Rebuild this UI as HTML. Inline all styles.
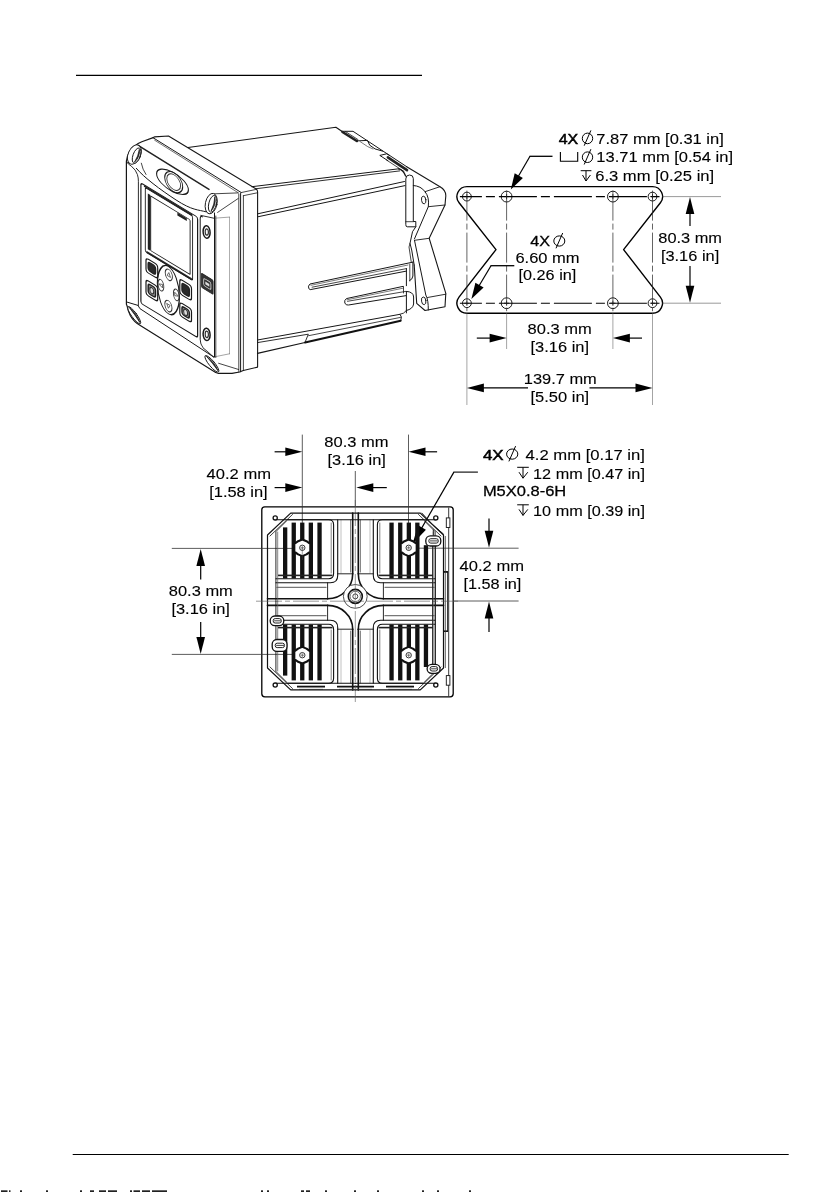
<!DOCTYPE html>
<html><head><meta charset="utf-8"><title>Mounting dimensions</title>
<style>
html,body{margin:0;padding:0;background:#fff;}
body{width:840px;height:1192px;overflow:hidden;position:relative;font-family:"Liberation Sans",sans-serif;}
svg{position:absolute;left:0;top:0;display:block;will-change:transform;}
svg text{font-family:"Liberation Sans",sans-serif;fill:#000;}
</style></head><body>
<svg width="840" height="1192" viewBox="0 0 840 1192">
<!-- page rules -->
<line x1="76.0" y1="75.4" x2="422.0" y2="75.4" stroke="#000" stroke-width="1.3" />
<line x1="72.7" y1="1154.5" x2="788.7" y2="1154.5" stroke="#000" stroke-width="1.1" />
<g fill="#222">
<rect x="1" y="1190.3" width="6.5" height="1.7"/>
<rect x="9" y="1190.3" width="1.5" height="1.7"/>
<rect x="20" y="1190.3" width="2" height="1.7"/>
<rect x="46" y="1190.3" width="2" height="1.7"/>
<rect x="80" y="1190.3" width="2" height="1.7"/>
<rect x="90" y="1190.3" width="4" height="1.7"/>
<rect x="99" y="1190.3" width="7" height="1.7"/>
<rect x="108" y="1190.3" width="9" height="1.7"/>
<rect x="130" y="1190.3" width="2" height="1.7"/>
<rect x="133.5" y="1190.3" width="6.5" height="1.7"/>
<rect x="142" y="1190.3" width="8" height="1.7"/>
<rect x="152" y="1190.3" width="15" height="1.7"/>
<rect x="261" y="1190.3" width="2" height="1.7"/>
<rect x="267" y="1190.3" width="2" height="1.7"/>
<rect x="301" y="1190.3" width="3" height="1.7"/>
<rect x="306" y="1190.3" width="4" height="1.7"/>
<rect x="325" y="1190.3" width="2" height="1.7"/>
<rect x="354" y="1190.3" width="2" height="1.7"/>
<rect x="377" y="1190.3" width="2" height="1.7"/>
<rect x="422" y="1190.3" width="2" height="1.7"/>
<rect x="437" y="1190.3" width="2" height="1.7"/>
<rect x="469" y="1190.3" width="2" height="1.7"/>
</g>
<!-- bracket flat pattern -->
<path d="M466.9,186.6 L652.5,186.6 A10.0,10.0 0 0 1 660.4,202.8 L623.6,249.6 L660.4,297.1 A10.0,10.0 0 0 1 652.5,313.2 L466.9,313.2 A10.0,10.0 0 0 1 459.0,297.1 L496.0,249.6 L459.1,202.8 A10.0,10.0 0 0 1 466.9,186.6 Z" fill="none" stroke="#000" stroke-width="1.4" stroke-linejoin="round"/>
<circle cx="466.9" cy="196.6" r="4.4" fill="none" stroke="#000" stroke-width="0.9"/>
<line x1="464.3" y1="196.6" x2="469.5" y2="196.6" stroke="#000" stroke-width="0.7" />
<line x1="466.9" y1="194.0" x2="466.9" y2="199.2" stroke="#000" stroke-width="0.7" />
<circle cx="466.9" cy="303.2" r="4.4" fill="none" stroke="#000" stroke-width="0.9"/>
<line x1="464.3" y1="303.2" x2="469.5" y2="303.2" stroke="#000" stroke-width="0.7" />
<line x1="466.9" y1="300.6" x2="466.9" y2="305.8" stroke="#000" stroke-width="0.7" />
<circle cx="506.6" cy="196.6" r="5.4" fill="none" stroke="#000" stroke-width="0.9"/>
<line x1="504.0" y1="196.6" x2="509.2" y2="196.6" stroke="#000" stroke-width="0.7" />
<line x1="506.6" y1="194.0" x2="506.6" y2="199.2" stroke="#000" stroke-width="0.7" />
<circle cx="506.6" cy="303.2" r="5.4" fill="none" stroke="#000" stroke-width="0.9"/>
<line x1="504.0" y1="303.2" x2="509.2" y2="303.2" stroke="#000" stroke-width="0.7" />
<line x1="506.6" y1="300.6" x2="506.6" y2="305.8" stroke="#000" stroke-width="0.7" />
<circle cx="612.9" cy="196.6" r="5.4" fill="none" stroke="#000" stroke-width="0.9"/>
<line x1="610.3" y1="196.6" x2="615.5" y2="196.6" stroke="#000" stroke-width="0.7" />
<line x1="612.9" y1="194.0" x2="612.9" y2="199.2" stroke="#000" stroke-width="0.7" />
<circle cx="612.9" cy="303.2" r="5.4" fill="none" stroke="#000" stroke-width="0.9"/>
<line x1="610.3" y1="303.2" x2="615.5" y2="303.2" stroke="#000" stroke-width="0.7" />
<line x1="612.9" y1="300.6" x2="612.9" y2="305.8" stroke="#000" stroke-width="0.7" />
<circle cx="652.5" cy="196.6" r="4.4" fill="none" stroke="#000" stroke-width="0.9"/>
<line x1="649.9" y1="196.6" x2="655.1" y2="196.6" stroke="#000" stroke-width="0.7" />
<line x1="652.5" y1="194.0" x2="652.5" y2="199.2" stroke="#000" stroke-width="0.7" />
<circle cx="652.5" cy="303.2" r="4.4" fill="none" stroke="#000" stroke-width="0.9"/>
<line x1="649.9" y1="303.2" x2="655.1" y2="303.2" stroke="#000" stroke-width="0.7" />
<line x1="652.5" y1="300.6" x2="652.5" y2="305.8" stroke="#000" stroke-width="0.7" />
<line x1="459.9" y1="196.6" x2="659.5" y2="196.6" stroke="#000" stroke-width="1.1" stroke-dasharray="38 4 9 4" stroke-dashoffset="16"/>
<line x1="459.9" y1="303.2" x2="659.5" y2="303.2" stroke="#000" stroke-width="1.1" stroke-dasharray="38 4 9 4" stroke-dashoffset="16"/>
<line x1="466.9" y1="190.6" x2="466.9" y2="311.2" stroke="#222" stroke-width="0.7" stroke-dasharray="30 3 6 3"/>
<line x1="466.9" y1="313.2" x2="466.9" y2="405.0" stroke="#666" stroke-width="0.6" />
<line x1="506.6" y1="190.6" x2="506.6" y2="311.2" stroke="#222" stroke-width="0.7" stroke-dasharray="30 3 6 3"/>
<line x1="506.6" y1="313.2" x2="506.6" y2="349.0" stroke="#666" stroke-width="0.6" />
<line x1="612.9" y1="190.6" x2="612.9" y2="311.2" stroke="#222" stroke-width="0.7" stroke-dasharray="30 3 6 3"/>
<line x1="612.9" y1="313.2" x2="612.9" y2="349.0" stroke="#666" stroke-width="0.6" />
<line x1="652.5" y1="190.6" x2="652.5" y2="311.2" stroke="#222" stroke-width="0.7" stroke-dasharray="30 3 6 3"/>
<line x1="652.5" y1="313.2" x2="652.5" y2="405.0" stroke="#666" stroke-width="0.6" />
<line x1="662.5" y1="196.6" x2="721.0" y2="196.6" stroke="#555" stroke-width="0.6" />
<line x1="662.5" y1="303.2" x2="721.0" y2="303.2" stroke="#555" stroke-width="0.6" />
<line x1="690.0" y1="226.0" x2="690.0" y2="212.1" stroke="#000" stroke-width="1.2" />
<polygon points="690.0,197.1 694.3,214.1 685.7,214.1" fill="#000"/>
<line x1="690.0" y1="266.0" x2="690.0" y2="287.7" stroke="#000" stroke-width="1.2" />
<polygon points="690.0,302.7 685.7,285.7 694.3,285.7" fill="#000"/>
<text x="658.3" y="242.7" font-size="15.3" textLength="63.7" lengthAdjust="spacingAndGlyphs" stroke="#000" stroke-width="0.12">80.3 mm</text>
<text x="660.9" y="260.8" font-size="15.3" textLength="58.3" lengthAdjust="spacingAndGlyphs" stroke="#000" stroke-width="0.12">[3.16 in]</text>
<line x1="476.8" y1="338.1" x2="491.6" y2="338.1" stroke="#000" stroke-width="1.2" />
<polygon points="506.6,338.1 489.6,342.4 489.6,333.8" fill="#000"/>
<line x1="642.0" y1="338.1" x2="627.9" y2="338.1" stroke="#000" stroke-width="1.2" />
<polygon points="612.9,338.1 629.9,333.8 629.9,342.4" fill="#000"/>
<text x="527.6" y="334.0" font-size="15.3" textLength="64.2" lengthAdjust="spacingAndGlyphs" stroke="#000" stroke-width="0.12">80.3 mm</text>
<text x="530.5" y="352.1" font-size="15.3" textLength="58.5" lengthAdjust="spacingAndGlyphs" stroke="#000" stroke-width="0.12">[3.16 in]</text>
<line x1="528.0" y1="387.9" x2="481.9" y2="387.9" stroke="#000" stroke-width="1.2" />
<polygon points="466.9,387.9 483.9,383.6 483.9,392.2" fill="#000"/>
<line x1="589.5" y1="387.9" x2="637.5" y2="387.9" stroke="#000" stroke-width="1.2" />
<polygon points="652.5,387.9 635.5,392.2 635.5,383.6" fill="#000"/>
<text x="523.8" y="383.5" font-size="15.3" textLength="73.0" lengthAdjust="spacingAndGlyphs" stroke="#000" stroke-width="0.12">139.7 mm</text>
<text x="530.5" y="401.5" font-size="15.3" textLength="58.7" lengthAdjust="spacingAndGlyphs" stroke="#000" stroke-width="0.12">[5.50 in]</text>
<text x="530.3" y="246.2" font-size="15.2" textLength="19.8" lengthAdjust="spacingAndGlyphs" stroke="#000" stroke-width="0.28">4X</text>
<ellipse cx="559.3" cy="241.0" rx="5.5" ry="5.1" fill="none" stroke="#000" stroke-width="1.0"/>
<line x1="556.0" y1="248.3" x2="562.7" y2="233.0" stroke="#000" stroke-width="1.0" />
<text x="515.4" y="262.6" font-size="15.3" textLength="64.2" lengthAdjust="spacingAndGlyphs" stroke="#000" stroke-width="0.12">6.60 mm</text>
<text x="518.5" y="280.3" font-size="15.3" textLength="57.8" lengthAdjust="spacingAndGlyphs" stroke="#000" stroke-width="0.12">[0.26 in]</text>
<line x1="514.3" y1="265.7" x2="490.5" y2="265.7" stroke="#000" stroke-width="1.3" />
<line x1="491.0" y1="265.7" x2="478.5" y2="286.8" stroke="#000" stroke-width="1.2" />
<polygon points="471.4,298.9 475.4,282.7 483.6,287.5" fill="#000"/>
<text x="558.7" y="144.0" font-size="15.0" textLength="19.5" lengthAdjust="spacingAndGlyphs" stroke="#000" stroke-width="0.5">4X</text>
<ellipse cx="587.5" cy="138.4" rx="5.2" ry="5.3" fill="none" stroke="#000" stroke-width="1.0"/>
<line x1="584.2" y1="145.7" x2="590.9" y2="130.4" stroke="#000" stroke-width="1.0" />
<text x="596.3" y="143.6" font-size="15.3" textLength="127.5" lengthAdjust="spacingAndGlyphs" stroke="#000" stroke-width="0.12">7.87 mm [0.31 in]</text>
<polyline points="560.4,152.1 560.4,161.2 577.7,161.2 577.7,152.1" fill="none" stroke="#000" stroke-width="1.1"/>
<ellipse cx="587.5" cy="157.2" rx="5.2" ry="5.3" fill="none" stroke="#000" stroke-width="1.0"/>
<line x1="584.2" y1="164.5" x2="590.9" y2="149.2" stroke="#000" stroke-width="1.0" />
<text x="596.3" y="162.3" font-size="15.3" textLength="136.7" lengthAdjust="spacingAndGlyphs" stroke="#000" stroke-width="0.12">13.71 mm [0.54 in]</text>
<line x1="580.7" y1="170.7" x2="591.4" y2="170.7" stroke="#000" stroke-width="1.0" />
<line x1="586.0" y1="170.7" x2="586.0" y2="181.0" stroke="#000" stroke-width="1.0" />
<polyline points="582.5,175.0 586.0,181.0 590.4,175.0" fill="none" stroke="#000" stroke-width="1.0"/>
<text x="595.2" y="180.7" font-size="15.3" textLength="119.0" lengthAdjust="spacingAndGlyphs" stroke="#000" stroke-width="0.12">6.3 mm [0.25 in]</text>
<line x1="552.5" y1="156.3" x2="529.5" y2="156.3" stroke="#000" stroke-width="1.3" />
<line x1="530.0" y1="156.3" x2="517.8" y2="177.3" stroke="#000" stroke-width="1.2" />
<polygon points="510.8,189.4 514.7,173.2 522.9,177.9" fill="#000"/>
<!-- bottom figure: rear view -->
<rect x="261.8" y="506.9" width="191.4" height="189.9" rx="3" fill="#fff" stroke="#000" stroke-width="1.3"/>
<line x1="302.3" y1="434.6" x2="302.3" y2="547.8" stroke="#333" stroke-width="0.8" />
<line x1="408.5" y1="434.6" x2="408.5" y2="547.8" stroke="#333" stroke-width="0.8" />
<line x1="355.3" y1="471.0" x2="355.3" y2="506.9" stroke="#333" stroke-width="0.8" />
<line x1="171.8" y1="548.4" x2="294.3" y2="548.4" stroke="#333" stroke-width="0.8" />
<line x1="171.8" y1="654.4" x2="294.3" y2="654.4" stroke="#333" stroke-width="0.8" />
<line x1="416.5" y1="548.2" x2="518.6" y2="548.2" stroke="#333" stroke-width="0.8" />
<line x1="453.2" y1="601.0" x2="518.6" y2="601.0" stroke="#333" stroke-width="0.8" />
<line x1="274.6" y1="451.8" x2="287.3" y2="451.8" stroke="#000" stroke-width="1.2" />
<polygon points="302.3,451.8 285.3,456.1 285.3,447.5" fill="#000"/>
<line x1="437.1" y1="451.8" x2="423.5" y2="451.8" stroke="#000" stroke-width="1.2" />
<polygon points="408.5,451.8 425.5,447.5 425.5,456.1" fill="#000"/>
<line x1="274.6" y1="487.6" x2="287.3" y2="487.6" stroke="#000" stroke-width="1.2" />
<polygon points="302.3,487.6 285.3,491.9 285.3,483.3" fill="#000"/>
<line x1="386.8" y1="487.6" x2="371.3" y2="487.6" stroke="#000" stroke-width="1.2" />
<polygon points="356.3,487.6 373.3,483.3 373.3,491.9" fill="#000"/>
<line x1="200.7" y1="579.5" x2="200.7" y2="564.0" stroke="#000" stroke-width="1.2" />
<polygon points="200.7,549.0 205.0,566.0 196.4,566.0" fill="#000"/>
<line x1="200.7" y1="622.0" x2="200.7" y2="639.0" stroke="#000" stroke-width="1.2" />
<polygon points="200.7,654.0 196.4,637.0 205.0,637.0" fill="#000"/>
<line x1="489.0" y1="518.5" x2="489.0" y2="532.8" stroke="#000" stroke-width="1.2" />
<polygon points="489.0,547.8 484.7,530.8 493.3,530.8" fill="#000"/>
<line x1="489.0" y1="632.0" x2="489.0" y2="616.5" stroke="#000" stroke-width="1.2" />
<polygon points="489.0,601.5 493.3,618.5 484.7,618.5" fill="#000"/>
<text x="324.3" y="447.1" font-size="15.3" textLength="64.2" lengthAdjust="spacingAndGlyphs" stroke="#000" stroke-width="0.12">80.3 mm</text>
<text x="327.5" y="465.4" font-size="15.3" textLength="58.3" lengthAdjust="spacingAndGlyphs" stroke="#000" stroke-width="0.12">[3.16 in]</text>
<text x="206.6" y="479.4" font-size="15.3" textLength="64.4" lengthAdjust="spacingAndGlyphs" stroke="#000" stroke-width="0.12">40.2 mm</text>
<text x="209.2" y="497.2" font-size="15.3" textLength="58.5" lengthAdjust="spacingAndGlyphs" stroke="#000" stroke-width="0.12">[1.58 in]</text>
<text x="168.8" y="595.7" font-size="15.3" textLength="64.0" lengthAdjust="spacingAndGlyphs" stroke="#000" stroke-width="0.12">80.3 mm</text>
<text x="171.4" y="613.8" font-size="15.3" textLength="58.5" lengthAdjust="spacingAndGlyphs" stroke="#000" stroke-width="0.12">[3.16 in]</text>
<text x="459.6" y="570.9" font-size="15.3" textLength="64.4" lengthAdjust="spacingAndGlyphs" stroke="#000" stroke-width="0.12">40.2 mm</text>
<text x="463.4" y="589.0" font-size="15.3" textLength="58.0" lengthAdjust="spacingAndGlyphs" stroke="#000" stroke-width="0.12">[1.58 in]</text>
<text x="482.9" y="459.9" font-size="15.0" textLength="20.7" lengthAdjust="spacingAndGlyphs" stroke="#000" stroke-width="0.5">4X</text>
<ellipse cx="512.2" cy="454.1" rx="5.6" ry="5.1" fill="none" stroke="#000" stroke-width="1.0"/>
<line x1="508.9" y1="461.4" x2="515.6" y2="446.1" stroke="#000" stroke-width="1.0" />
<text x="525.5" y="459.8" font-size="15.3" textLength="119.4" lengthAdjust="spacingAndGlyphs" stroke="#000" stroke-width="0.12">4.2 mm [0.17 in]</text>
<line x1="517.2" y1="467.3" x2="528.8" y2="467.3" stroke="#000" stroke-width="1.0" />
<line x1="523.0" y1="467.3" x2="523.0" y2="478.2" stroke="#000" stroke-width="1.0" />
<polyline points="519.0,472.2 523.0,478.2 527.8,472.2" fill="none" stroke="#000" stroke-width="1.0"/>
<text x="533.1" y="478.5" font-size="15.3" textLength="111.8" lengthAdjust="spacingAndGlyphs" stroke="#000" stroke-width="0.12">12 mm [0.47 in]</text>
<text x="482.9" y="496.3" font-size="15.2" textLength="83.4" lengthAdjust="spacingAndGlyphs" stroke="#000" stroke-width="0.28">M5X0.8-6H</text>
<line x1="517.2" y1="504.8" x2="528.8" y2="504.8" stroke="#000" stroke-width="1.0" />
<line x1="523.0" y1="504.8" x2="523.0" y2="515.4" stroke="#000" stroke-width="1.0" />
<polyline points="519.0,509.4 523.0,515.4 527.8,509.4" fill="none" stroke="#000" stroke-width="1.0"/>
<text x="533.1" y="515.5" font-size="15.3" textLength="111.8" lengthAdjust="spacingAndGlyphs" stroke="#000" stroke-width="0.12">10 mm [0.39 in]</text>
<line x1="477.9" y1="472.1" x2="453.4" y2="472.1" stroke="#000" stroke-width="1.1" />
<line x1="453.9" y1="472.1" x2="421.0" y2="529.2" stroke="#000" stroke-width="1.2" />
<polygon points="412.5,543.9 418.1,525.2 425.9,529.7" fill="#000"/>
<path d="M275.9,519.7 H328.6 Q333.6,519.7 333.6,524.7 V573.6 Q333.6,578.8 328.6,578.8 H275.9" fill="none" stroke="#111" stroke-width="1.1" stroke-linejoin="round" stroke-linecap="round" />
<path d="M337.7,519.7 V575.5 Q337.7,582.8 330.4,582.8 H275.9" fill="none" stroke="#111" stroke-width="1.1" stroke-linejoin="round" stroke-linecap="round" />
<path d="M331.2,523.0 V573.0" fill="none" stroke="#666" stroke-width="0.8" stroke-linejoin="round" stroke-linecap="round" />
<path d="M277.0,587.3 H326.0" fill="none" stroke="#777" stroke-width="1.3" stroke-linejoin="round" stroke-linecap="round" />
<path d="M350.6,520.0 V572.0" fill="none" stroke="#888" stroke-width="1.2" stroke-linejoin="round" stroke-linecap="round" />
<path d="M341.0,520.0 V573.0" fill="none" stroke="#999" stroke-width="0.6" stroke-linejoin="round" stroke-linecap="round" />
<rect x="283.0" y="527.4" width="4.3" height="51.0" fill="#111"/>
<rect x="291.6" y="522.6" width="4.3" height="55.8" fill="#111"/>
<rect x="300.1" y="522.6" width="4.3" height="55.8" fill="#111"/>
<rect x="308.7" y="522.6" width="4.3" height="55.8" fill="#111"/>
<rect x="317.4" y="522.6" width="4.3" height="55.8" fill="#111"/>
<rect x="278.0" y="574.6" width="54.5" height="1.6" fill="#222"/>
<polygon points="302.3,539.5 306.5,541.2 310.3,544.0 310.3,551.6 306.5,554.4 302.3,556.1 298.1,554.4 294.3,551.6 294.3,544.0 298.1,541.2" fill="#fff" stroke="#111" stroke-width="2.1" stroke-linejoin="round"/>
<circle cx="302.3" cy="547.8" r="2.7" fill="#fff" stroke="#222" stroke-width="0.9"/>
<line x1="300.5" y1="547.8" x2="304.1" y2="547.8" stroke="#333" stroke-width="0.6" />
<line x1="302.3" y1="546.0" x2="302.3" y2="549.6" stroke="#333" stroke-width="0.6" />
<path d="M352.7,573.8 A25,25.0 0 0 1 327.6,598.8" fill="none" stroke="#111" stroke-width="1.6" stroke-linejoin="round" stroke-linecap="round" />
<path d="M352.7,513.1 V573.8" fill="none" stroke="#111" stroke-width="1.6" stroke-linejoin="round" stroke-linecap="round" />
<path d="M267.5,598.8 H327.6" fill="none" stroke="#111" stroke-width="1.6" stroke-linejoin="round" stroke-linecap="round" />
<path d="M327.6,582.8 V598.8" fill="none" stroke="#111" stroke-width="0.9" stroke-linejoin="round" stroke-linecap="round" />
<path d="M337.7,573.8 H352.7" fill="none" stroke="#111" stroke-width="0.9" stroke-linejoin="round" stroke-linecap="round" />
<path d="M355.5,513.1 H290.7 L267.5,535.0 V601.5" fill="none" stroke="#111" stroke-width="1.2" stroke-linejoin="round" stroke-linecap="round" />
<path d="M292.5,514.5 L270.0,536.0" fill="none" stroke="#111" stroke-width="0.8" stroke-linejoin="round" stroke-linecap="round" />
<path d="M286.5,521.0 L276.0,531.5" fill="none" stroke="#111" stroke-width="0.8" stroke-linejoin="round" stroke-linecap="round" />
<path d="M355.5,519.7 H287.5" fill="none" stroke="#111" stroke-width="1.1" stroke-linejoin="round" stroke-linecap="round" />
<path d="M275.9,532.0 V601.5" fill="none" stroke="#111" stroke-width="0.9" stroke-linejoin="round" stroke-linecap="round" />
<path d="M277.7,532.0 V601.5" fill="none" stroke="#555" stroke-width="0.7" stroke-linejoin="round" stroke-linecap="round" />
<circle cx="275.2" cy="517.9" r="2.1" fill="#fff" stroke="#111" stroke-width="1.3"/>
<path d="M275.9,683.3 H328.6 Q333.6,683.3 333.6,678.3 V629.4 Q333.6,624.2 328.6,624.2 H275.9" fill="none" stroke="#111" stroke-width="1.1" stroke-linejoin="round" stroke-linecap="round" />
<path d="M337.7,683.3 V627.5 Q337.7,620.2 330.4,620.2 H275.9" fill="none" stroke="#111" stroke-width="1.1" stroke-linejoin="round" stroke-linecap="round" />
<path d="M331.2,680.0 V630.0" fill="none" stroke="#666" stroke-width="0.8" stroke-linejoin="round" stroke-linecap="round" />
<path d="M277.0,615.7 H326.0" fill="none" stroke="#777" stroke-width="1.3" stroke-linejoin="round" stroke-linecap="round" />
<path d="M350.6,683.0 V631.0" fill="none" stroke="#888" stroke-width="1.2" stroke-linejoin="round" stroke-linecap="round" />
<path d="M341.0,683.0 V630.0" fill="none" stroke="#999" stroke-width="0.6" stroke-linejoin="round" stroke-linecap="round" />
<rect x="283.0" y="624.6" width="4.3" height="51.0" fill="#111"/>
<rect x="291.6" y="624.6" width="4.3" height="55.8" fill="#111"/>
<rect x="300.1" y="624.6" width="4.3" height="55.8" fill="#111"/>
<rect x="308.7" y="624.6" width="4.3" height="55.8" fill="#111"/>
<rect x="317.4" y="624.6" width="4.3" height="55.8" fill="#111"/>
<rect x="278.0" y="626.8" width="54.5" height="1.6" fill="#222"/>
<polygon points="302.3,646.9 306.5,648.6 310.3,651.4 310.3,659.0 306.5,661.8 302.3,663.5 298.1,661.8 294.3,659.0 294.3,651.4 298.1,648.6" fill="#fff" stroke="#111" stroke-width="2.1" stroke-linejoin="round"/>
<circle cx="302.3" cy="655.2" r="2.7" fill="#fff" stroke="#222" stroke-width="0.9"/>
<line x1="300.5" y1="655.2" x2="304.1" y2="655.2" stroke="#333" stroke-width="0.6" />
<line x1="302.3" y1="653.4" x2="302.3" y2="657.0" stroke="#333" stroke-width="0.6" />
<path d="M352.7,629.2 A25,23.8 0 0 0 327.6,605.4" fill="none" stroke="#111" stroke-width="1.6" stroke-linejoin="round" stroke-linecap="round" />
<path d="M352.7,689.9 V629.2" fill="none" stroke="#111" stroke-width="1.6" stroke-linejoin="round" stroke-linecap="round" />
<path d="M267.5,605.4 H327.6" fill="none" stroke="#111" stroke-width="1.6" stroke-linejoin="round" stroke-linecap="round" />
<path d="M327.6,620.2 V605.4" fill="none" stroke="#111" stroke-width="0.9" stroke-linejoin="round" stroke-linecap="round" />
<path d="M337.7,629.2 H352.7" fill="none" stroke="#111" stroke-width="0.9" stroke-linejoin="round" stroke-linecap="round" />
<path d="M355.5,689.9 H290.7 L267.5,668.0 V601.5" fill="none" stroke="#111" stroke-width="1.2" stroke-linejoin="round" stroke-linecap="round" />
<path d="M292.5,688.5 L270.0,667.0" fill="none" stroke="#111" stroke-width="0.8" stroke-linejoin="round" stroke-linecap="round" />
<path d="M286.5,682.0 L276.0,671.5" fill="none" stroke="#111" stroke-width="0.8" stroke-linejoin="round" stroke-linecap="round" />
<path d="M355.5,683.3 H287.5" fill="none" stroke="#111" stroke-width="1.1" stroke-linejoin="round" stroke-linecap="round" />
<path d="M275.9,671.0 V601.5" fill="none" stroke="#111" stroke-width="0.9" stroke-linejoin="round" stroke-linecap="round" />
<path d="M277.7,671.0 V601.5" fill="none" stroke="#555" stroke-width="0.7" stroke-linejoin="round" stroke-linecap="round" />
<circle cx="275.2" cy="685.1" r="2.1" fill="#fff" stroke="#111" stroke-width="1.3"/>
<path d="M435.1,519.7 H382.4 Q377.4,519.7 377.4,524.7 V573.6 Q377.4,578.8 382.4,578.8 H435.1" fill="none" stroke="#111" stroke-width="1.1" stroke-linejoin="round" stroke-linecap="round" />
<path d="M373.3,519.7 V575.5 Q373.3,582.8 380.6,582.8 H435.1" fill="none" stroke="#111" stroke-width="1.1" stroke-linejoin="round" stroke-linecap="round" />
<path d="M379.8,523.0 V573.0" fill="none" stroke="#666" stroke-width="0.8" stroke-linejoin="round" stroke-linecap="round" />
<path d="M434.0,587.3 H385.0" fill="none" stroke="#777" stroke-width="1.3" stroke-linejoin="round" stroke-linecap="round" />
<path d="M360.4,520.0 V572.0" fill="none" stroke="#888" stroke-width="1.2" stroke-linejoin="round" stroke-linecap="round" />
<path d="M370.0,520.0 V573.0" fill="none" stroke="#999" stroke-width="0.6" stroke-linejoin="round" stroke-linecap="round" />
<rect x="423.8" y="545.2" width="4.3" height="33.2" fill="#111"/>
<rect x="415.2" y="522.6" width="4.3" height="55.8" fill="#111"/>
<rect x="406.7" y="522.6" width="4.3" height="55.8" fill="#111"/>
<rect x="398.1" y="522.6" width="4.3" height="55.8" fill="#111"/>
<rect x="389.4" y="522.6" width="4.3" height="55.8" fill="#111"/>
<rect x="378.5" y="574.6" width="54.5" height="1.6" fill="#222"/>
<polygon points="408.7,539.5 412.9,541.2 416.7,544.0 416.7,551.6 412.9,554.4 408.7,556.1 404.5,554.4 400.7,551.6 400.7,544.0 404.5,541.2" fill="#fff" stroke="#111" stroke-width="2.1" stroke-linejoin="round"/>
<circle cx="408.7" cy="547.8" r="2.7" fill="#fff" stroke="#222" stroke-width="0.9"/>
<line x1="406.9" y1="547.8" x2="410.5" y2="547.8" stroke="#333" stroke-width="0.6" />
<line x1="408.7" y1="546.0" x2="408.7" y2="549.6" stroke="#333" stroke-width="0.6" />
<path d="M358.3,573.8 A25,25.0 0 0 0 383.4,598.8" fill="none" stroke="#111" stroke-width="1.6" stroke-linejoin="round" stroke-linecap="round" />
<path d="M358.3,513.1 V573.8" fill="none" stroke="#111" stroke-width="1.6" stroke-linejoin="round" stroke-linecap="round" />
<path d="M443.5,598.8 H383.4" fill="none" stroke="#111" stroke-width="1.6" stroke-linejoin="round" stroke-linecap="round" />
<path d="M383.4,582.8 V598.8" fill="none" stroke="#111" stroke-width="0.9" stroke-linejoin="round" stroke-linecap="round" />
<path d="M373.3,573.8 H358.3" fill="none" stroke="#111" stroke-width="0.9" stroke-linejoin="round" stroke-linecap="round" />
<path d="M355.5,513.1 H420.3 L443.5,535.0 V601.5" fill="none" stroke="#111" stroke-width="1.2" stroke-linejoin="round" stroke-linecap="round" />
<path d="M418.5,514.5 L441.0,536.0" fill="none" stroke="#111" stroke-width="0.8" stroke-linejoin="round" stroke-linecap="round" />
<path d="M424.5,521.0 L435.0,531.5" fill="none" stroke="#111" stroke-width="0.8" stroke-linejoin="round" stroke-linecap="round" />
<path d="M355.5,519.7 H423.5" fill="none" stroke="#111" stroke-width="1.1" stroke-linejoin="round" stroke-linecap="round" />
<path d="M435.1,532.0 V601.5" fill="none" stroke="#111" stroke-width="0.9" stroke-linejoin="round" stroke-linecap="round" />
<path d="M433.3,532.0 V601.5" fill="none" stroke="#555" stroke-width="0.7" stroke-linejoin="round" stroke-linecap="round" />
<circle cx="435.8" cy="517.9" r="2.1" fill="#fff" stroke="#111" stroke-width="1.3"/>
<path d="M435.1,683.3 H382.4 Q377.4,683.3 377.4,678.3 V629.4 Q377.4,624.2 382.4,624.2 H435.1" fill="none" stroke="#111" stroke-width="1.1" stroke-linejoin="round" stroke-linecap="round" />
<path d="M373.3,683.3 V627.5 Q373.3,620.2 380.6,620.2 H435.1" fill="none" stroke="#111" stroke-width="1.1" stroke-linejoin="round" stroke-linecap="round" />
<path d="M379.8,680.0 V630.0" fill="none" stroke="#666" stroke-width="0.8" stroke-linejoin="round" stroke-linecap="round" />
<path d="M434.0,615.7 H385.0" fill="none" stroke="#777" stroke-width="1.3" stroke-linejoin="round" stroke-linecap="round" />
<path d="M360.4,683.0 V631.0" fill="none" stroke="#888" stroke-width="1.2" stroke-linejoin="round" stroke-linecap="round" />
<path d="M370.0,683.0 V630.0" fill="none" stroke="#999" stroke-width="0.6" stroke-linejoin="round" stroke-linecap="round" />
<rect x="423.8" y="624.6" width="4.3" height="42.4" fill="#111"/>
<rect x="415.2" y="624.6" width="4.3" height="55.8" fill="#111"/>
<rect x="406.7" y="624.6" width="4.3" height="55.8" fill="#111"/>
<rect x="398.1" y="624.6" width="4.3" height="55.8" fill="#111"/>
<rect x="389.4" y="624.6" width="4.3" height="55.8" fill="#111"/>
<rect x="378.5" y="626.8" width="54.5" height="1.6" fill="#222"/>
<polygon points="408.7,646.9 412.9,648.6 416.7,651.4 416.7,659.0 412.9,661.8 408.7,663.5 404.5,661.8 400.7,659.0 400.7,651.4 404.5,648.6" fill="#fff" stroke="#111" stroke-width="2.1" stroke-linejoin="round"/>
<circle cx="408.7" cy="655.2" r="2.7" fill="#fff" stroke="#222" stroke-width="0.9"/>
<line x1="406.9" y1="655.2" x2="410.5" y2="655.2" stroke="#333" stroke-width="0.6" />
<line x1="408.7" y1="653.4" x2="408.7" y2="657.0" stroke="#333" stroke-width="0.6" />
<path d="M358.3,629.2 A25,23.8 0 0 1 383.4,605.4" fill="none" stroke="#111" stroke-width="1.6" stroke-linejoin="round" stroke-linecap="round" />
<path d="M358.3,689.9 V629.2" fill="none" stroke="#111" stroke-width="1.6" stroke-linejoin="round" stroke-linecap="round" />
<path d="M443.5,605.4 H383.4" fill="none" stroke="#111" stroke-width="1.6" stroke-linejoin="round" stroke-linecap="round" />
<path d="M383.4,620.2 V605.4" fill="none" stroke="#111" stroke-width="0.9" stroke-linejoin="round" stroke-linecap="round" />
<path d="M373.3,629.2 H358.3" fill="none" stroke="#111" stroke-width="0.9" stroke-linejoin="round" stroke-linecap="round" />
<path d="M355.5,689.9 H420.3 L443.5,668.0 V601.5" fill="none" stroke="#111" stroke-width="1.2" stroke-linejoin="round" stroke-linecap="round" />
<path d="M418.5,688.5 L441.0,667.0" fill="none" stroke="#111" stroke-width="0.8" stroke-linejoin="round" stroke-linecap="round" />
<path d="M424.5,682.0 L435.0,671.5" fill="none" stroke="#111" stroke-width="0.8" stroke-linejoin="round" stroke-linecap="round" />
<path d="M355.5,683.3 H423.5" fill="none" stroke="#111" stroke-width="1.1" stroke-linejoin="round" stroke-linecap="round" />
<path d="M435.1,671.0 V601.5" fill="none" stroke="#111" stroke-width="0.9" stroke-linejoin="round" stroke-linecap="round" />
<path d="M433.3,671.0 V601.5" fill="none" stroke="#555" stroke-width="0.7" stroke-linejoin="round" stroke-linecap="round" />
<circle cx="435.8" cy="685.1" r="2.1" fill="#fff" stroke="#111" stroke-width="1.3"/>
<line x1="297.0" y1="686.6" x2="325.0" y2="686.6" stroke="#111" stroke-width="1.8" />
<line x1="299.0" y1="689.4" x2="323.0" y2="689.4" stroke="#333" stroke-width="0.9" />
<line x1="337.0" y1="686.6" x2="374.0" y2="686.6" stroke="#111" stroke-width="1.8" />
<line x1="339.0" y1="689.4" x2="372.0" y2="689.4" stroke="#333" stroke-width="0.9" />
<line x1="386.0" y1="686.6" x2="414.0" y2="686.6" stroke="#111" stroke-width="1.8" />
<line x1="388.0" y1="689.4" x2="412.0" y2="689.4" stroke="#333" stroke-width="0.9" />
<line x1="448.7" y1="507.5" x2="448.7" y2="696.3" stroke="#222" stroke-width="0.9" />
<rect x="446.3" y="517.9" width="3.6" height="9.6" fill="#fff" stroke="#111" stroke-width="0.9"/>
<rect x="446.3" y="675.6" width="3.6" height="9.6" fill="#fff" stroke="#111" stroke-width="0.9"/>
<path d="M443.6,571.5 H447.6 V631.5 H443.6" fill="none" stroke="#111" stroke-width="0.9" stroke-linejoin="round" stroke-linecap="round" />
<line x1="444.0" y1="572.0" x2="448.0" y2="572.0" stroke="#111" stroke-width="1.6" />
<line x1="444.0" y1="631.2" x2="448.0" y2="631.2" stroke="#111" stroke-width="1.6" />
<line x1="445.3" y1="536.0" x2="445.3" y2="668.0" stroke="#333" stroke-width="0.8" />
<line x1="432.5" y1="546.0" x2="432.5" y2="664.0" stroke="#222" stroke-width="0.9" />
<line x1="435.5" y1="546.0" x2="435.5" y2="664.0" stroke="#222" stroke-width="0.9" />
<circle cx="355.3" cy="596.4" r="11.9" fill="#fff" stroke="#222" stroke-width="0.8"/>
<circle cx="355.3" cy="596.4" r="7.0" fill="#fff" stroke="#111" stroke-width="1.6"/>
<circle cx="355.3" cy="596.4" r="5.2" fill="none" stroke="#333" stroke-width="0.7"/>
<circle cx="355.3" cy="596.4" r="2.5" fill="none" stroke="#444" stroke-width="1.0"/>
<rect x="425.8" y="535.8" width="15" height="10.2" rx="4.6" fill="#fff" stroke="#111" stroke-width="1.3"/>
<rect x="428.8" y="538.7" width="9.5" height="4.4" rx="2" fill="#fff" stroke="#222" stroke-width="1.0"/>
<line x1="429.8" y1="540.9" x2="437.8" y2="540.9" stroke="#444" stroke-width="1.0" />
<line x1="433.3" y1="529.5" x2="433.3" y2="535.5" stroke="#222" stroke-width="1.0" />
<path d="M421.9,513.1 L432,524 L443.4,534" fill="none" stroke="#111" stroke-width="0.9" stroke-linejoin="round" stroke-linecap="round" />
<rect x="270.2" y="616.0" width="13.6" height="9.6" rx="4.6" fill="#fff" stroke="#111" stroke-width="1.3"/>
<rect x="273.2" y="618.6" width="8.1" height="4.4" rx="2" fill="#fff" stroke="#222" stroke-width="1.0"/>
<line x1="274.2" y1="620.8" x2="280.8" y2="620.8" stroke="#444" stroke-width="1.0" />
<rect x="272.2" y="639.5" width="14.8" height="11.8" rx="4.6" fill="#fff" stroke="#111" stroke-width="1.3"/>
<rect x="275.2" y="643.2" width="9.3" height="4.4" rx="2" fill="#fff" stroke="#222" stroke-width="1.0"/>
<line x1="276.2" y1="645.4" x2="284.0" y2="645.4" stroke="#444" stroke-width="1.0" />
<rect x="427.1" y="664.3" width="13" height="9" rx="4.6" fill="#fff" stroke="#111" stroke-width="1.3"/>
<rect x="430.1" y="666.6" width="7.5" height="4.4" rx="2" fill="#fff" stroke="#222" stroke-width="1.0"/>
<line x1="431.1" y1="668.8" x2="437.1" y2="668.8" stroke="#444" stroke-width="1.0" />
<line x1="355.3" y1="500.0" x2="355.3" y2="702.0" stroke="#555" stroke-width="0.6" stroke-dasharray="26 3 5 3"/>
<line x1="256.0" y1="601.2" x2="458.0" y2="601.2" stroke="#555" stroke-width="0.6" stroke-dasharray="26 3 5 3"/>
<line x1="302.3" y1="547.8" x2="302.3" y2="560.0" stroke="#444" stroke-width="0.5" />
<!-- device isometric view -->
<g fill="none" stroke="#161616" stroke-width="1.1" stroke-linejoin="round" stroke-linecap="round">
<path d="M188,147.5 L335.9,127.3 L341.8,131.3" stroke-width="1.1"/>
<path d="M251.9,186.7 L398.6,168.8" stroke-width="1.0"/>
<path d="M256.4,188.7 L399.7,170.9" stroke-width="0.9"/>
<path d="M257.8,213.8 L404.5,181.5" stroke-width="1.0"/>
<path d="M257.8,216.8 L405,185.6" stroke-width="1.0"/>
<path d="M257.5,340 L400,314.3 L401.4,317.1 L400.7,320.7" stroke-width="1.0"/>
<path d="M257.5,342.6 L308.3,334.2 L305,342.5" stroke-width="0.9"/>
<path d="M257.5,353.3 L305,342.5" stroke-width="1.2"/>
<path d="M305,342.5 L400.7,320.7" stroke-width="1.9" stroke="#111"/>
<path d="M308.6,335.7 L400.5,317.4" stroke-width="0.8"/>
<path d="M412.9,262.1 L310,284 Q307.6,286 308.8,288.6 Q310,290.3 312,289.3 L406.4,271.1" stroke-width="1.0"/>
<path d="M312.1,287.2 L406.4,268.6" stroke-width="0.8"/>
<path d="M311,285.3 L408,265" stroke-width="0.7" stroke="#444"/>
<path d="M406.4,268.6 V285.7" stroke-width="1.0"/>
<path d="M412.9,262.1 V276 Q412.5,279.5 409.8,280.5" stroke-width="1.0"/>
<path d="M409.8,264 V281" stroke-width="0.8"/>
<path d="M402.9,286.4 L346.4,298.6 Q344,300.3 344.8,303 Q346,305.6 348.5,305 L405.7,295.7" stroke-width="1.0"/>
<path d="M347.5,301.3 L405.7,291.4" stroke-width="0.8"/>
<path d="M347,299.8 L403,288.2" stroke-width="0.7" stroke="#444"/>
<path d="M406.4,291.4 V312.9" stroke-width="1.0"/>
<path d="M406.4,291.4 Q413.5,291.8 413.6,297 V304 Q413,309 406.4,310.5" stroke-width="1.0"/>
<path d="M406.4,310.5 Q404,314 400,314.3" stroke-width="0.9"/>
<path d="M403.5,286.5 V293" stroke-width="0.8"/>
<path d="M405.8,178.5 Q405.8,175 409.5,175 Q413.3,175 413.3,178.5 V221.5 H415.8 V226.8 H407.2 Q405.8,226.8 405.8,225 Z" stroke-width="1.0" fill="#fff"/>
<path d="M405.8,221.7 H413.3" stroke-width="0.8"/>
<path d="M398.6,168.8 Q403.5,170 405.6,176" stroke-width="1.3"/>
<path d="M415.8,226.8 L412.5,231.7 L410,243.3 L411.7,250 L414.2,265" stroke-width="1.0"/>
<path d="M410,243.3 L409,247 L411.3,262.3" stroke-width="0.8"/>
<path d="M341.8,131.3 H353 L406.7,166.7" stroke-width="1.0"/>
<path d="M342.5,132 L356.8,141" stroke-width="2.6" stroke="#222"/>
<path d="M345.5,131.6 L358,139.6" stroke-width="0.8"/>
<path d="M356.8,140.9 L367.5,140.4 L369.7,145.2 L375,148.9 L382.5,151.1" stroke-width="1.0"/>
<path d="M360,141.5 L367.5,146.5 L373,149" stroke-width="0.7" stroke="#444"/>
<path d="M389.5,155.4 L386.8,153.8 L379.8,155.4 L387.9,160.7" stroke-width="1.0"/>
<path d="M387.9,157.3 L407,170.2" stroke-width="2.6" stroke="#222"/>
<path d="M386.5,160 L404,171.5" stroke-width="0.8"/>
<path d="M406.7,166.7 L440,186.7 Q446,190 445.8,196 L445,205 L429.2,238.3 L445.8,293.3 L445,306.7 L425,310.5 L416.7,303.3 L414.2,265" stroke-width="1.1"/>
<path d="M413.3,185.5 Q421,186 425,191.7 Q429.5,197 428.3,206.7 L414.5,238.8" stroke-width="1.0"/>
<path d="M425,191.7 L440,186.7" stroke-width="0.9"/>
<path d="M428.3,206.7 L445,205" stroke-width="0.9"/>
<path d="M414.5,240.3 L429.2,238.3" stroke-width="0.9"/>
<path d="M414.5,240.3 L425.8,295 Q428.5,300 428.3,310" stroke-width="1.0"/>
<path d="M427.5,297.5 L445.8,294.2" stroke-width="0.9"/>
<ellipse cx="423.7" cy="200" rx="2.2" ry="3.9" transform="rotate(-8 423.7 200)" stroke-width="0.9"/>
<ellipse cx="423.7" cy="300.8" rx="2.2" ry="3.9" transform="rotate(-8 423.7 300.8)" stroke-width="0.9"/>
<path d="M153.2,137.6 L154.4,136.9 L168.5,136 L256.2,189 Q257.6,190 257.6,192 V367.1 L243.3,370.5 L239.5,372 L232,373.4 L218.6,373.4 L215.7,372.4" stroke-width="1.1"/>
<path d="M153.2,137.8 L241,192.4" stroke-width="1.0"/>
<path d="M154.6,140.2 L238.3,192.8" stroke-width="0.7" stroke="#333"/>
<path d="M241,192.6 L256.2,189.4" stroke-width="0.8"/>
<path d="M243.3,195.7 L257.3,192.8" stroke-width="0.8"/>
<path d="M240.6,193.5 V371.8" stroke-width="1.0"/>
<path d="M238.8,194 V372" stroke-width="0.8"/>
<path d="M243.4,195.8 V370.5" stroke-width="0.8"/>
<path d="M229.5,217.2 V353.8" stroke-width="0.6" stroke="#777"/>
<path d="M215.7,218.1 L229.5,217.1" stroke-width="0.6" stroke="#666"/>
<path d="M215.2,356.7 L229.5,353.8" stroke-width="0.6" stroke="#666"/>
<path d="M153.2,137.6 L141.8,141.8 Q134.2,145 129.4,151.8 Q127,156 126.4,161.3 V304.3 L127,305.7 Q128,311 130.4,315.7 Q134,322 139.9,325.2 L215.7,372.4" stroke-width="1.2"/>
<path d="M138.5,145.6 L209,189.4" stroke-width="1.5" stroke="#222"/>
<path d="M136.3,168.3 C144,177.5 160,189.5 176.1,200 S198,209.6 206,211.8" stroke-width="1.0"/>
<path d="M141.3,163.2 Q142.5,169.5 146,174.5" stroke-width="0.8"/>
<path d="M200.8,215.4 L214.3,218.3" stroke-width="0.9"/>
<path d="M214.5,213 V357" stroke-width="1.0"/>
<path d="M215.8,216 V357.5" stroke-width="0.8"/>
<path d="M214.3,193.8 L238.1,192.9" stroke-width="0.8"/>
<path d="M217.6,212.4 L238.3,198.4" stroke-width="0.8"/>
<path d="M218.6,363.3 L238.6,369.5" stroke-width="0.8"/>
<path d="M126.4,301.9 L138,305.4 L139.9,308.6 L213.8,357.1" stroke-width="1.0"/>
<path d="M126.4,161.3 Q128,164.5 131.3,166.1 Q136,170 137.4,174.5 Q138.5,178 138.4,181.3 V305.5" stroke-width="0.9"/>
<ellipse cx="134.4" cy="154.6" rx="6.2" ry="10.2" transform="rotate(24 134.4 154.6)" stroke-width="0.9" fill="#fff"/>
<ellipse cx="136.6" cy="155.6" rx="3.6" ry="8.0" transform="rotate(20 136.6 155.6)" stroke-width="0.9" fill="#fff"/>
<path d="M137.2,149.1 Q140.5,155.6 136.9,162.4 Q138.4,155.6 137.2,149.1 Z" fill="#333" stroke-width="0.7" transform="rotate(20 136.6 155.6)"/>
<ellipse cx="211.2" cy="203.6" rx="5.8" ry="10.4" transform="rotate(12 211.2 203.6)" stroke-width="0.9" fill="#fff"/>
<ellipse cx="212.6" cy="203.8" rx="3.8" ry="8.6" transform="rotate(14 212.6 203.8)" stroke-width="0.9" fill="#fff"/>
<path d="M213.2,196.7 Q216.7,203.8 212.9,211.2 Q214.6,203.8 213.2,196.7 Z" fill="#333" stroke-width="0.7" transform="rotate(14 212.6 203.8)"/>
<ellipse cx="134.2" cy="315.2" rx="2.6" ry="10.5" transform="rotate(-36 134.2 315.2)" stroke-width="0.9" fill="#fff"/>
<path d="M134.8,306.2 Q137.1,315.2 134.5,324.5 Q135.0,315.2 134.8,306.2 Z" fill="#333" stroke-width="0.7" transform="rotate(-36 134.2 315.2)"/>
<ellipse cx="211.9" cy="363.8" rx="2.8" ry="10.5" transform="rotate(-39.5 211.9 363.8)" stroke-width="0.9" fill="#fff"/>
<path d="M212.5,354.8 Q215.0,363.8 212.2,373.1 Q212.9,363.8 212.5,354.8 Z" fill="#333" stroke-width="0.7" transform="rotate(-39.5 211.9 363.8)"/>
</g>
<g transform="matrix(1,0.605,0,1,140.9,182.9)" fill="none" stroke="#1a1a1a" stroke-width="1.0" stroke-linejoin="round">
<rect x="0" y="0" width="56.7" height="120.4" rx="2" stroke-width="1.2"/>
<rect x="4.4" y="2.0" width="47.3" height="64.2" rx="1.5" stroke-width="0.9"/>
<path d="M3,1.2 H51.5" stroke-width="1.9" stroke="#222"/>
<rect x="9.8" y="7.2" width="39.4" height="54.6" rx="0.8" stroke-width="0.9"/>
<path d="M8.2,62.2 V6.4" stroke-width="2.6" stroke="#222"/>
<path d="M5.5,65.6 H51" stroke-width="2.2" stroke="#222"/>
<rect x="36.5" y="7.6" width="9.4" height="2.8" fill="#222" stroke="none"/>
<ellipse cx="27.5" cy="90.5" rx="11" ry="23.7" stroke-width="1.2"/>
<ellipse cx="27.9" cy="75.0" rx="3.6" ry="5.4" stroke-width="0.9" stroke="#333"/>
<path d="M26.2,76.6 L27.9,72.8 L29.599999999999998,76.6 Z" stroke-width="0.7" stroke="#444" transform="rotate(0 27.9 75.0)"/>
<ellipse cx="27.5" cy="106.5" rx="3.6" ry="5.4" stroke-width="0.9" stroke="#333"/>
<path d="M25.8,108.1 L27.5,104.3 L29.2,108.1 Z" stroke-width="0.7" stroke="#444" transform="rotate(180 27.5 106.5)"/>
<ellipse cx="20.0" cy="90.2" rx="2.9" ry="5.6" stroke-width="0.9" stroke="#333"/>
<path d="M18.3,91.8 L20.0,88.0 L21.7,91.8 Z" stroke-width="0.7" stroke="#444" transform="rotate(-90 20.0 90.2)"/>
<ellipse cx="35.4" cy="90.6" rx="2.9" ry="5.6" stroke-width="0.9" stroke="#333"/>
<path d="M33.699999999999996,92.19999999999999 L35.4,88.39999999999999 L37.1,92.19999999999999 Z" stroke-width="0.7" stroke="#444" transform="rotate(90 35.4 90.6)"/>
<rect x="5.1" y="71.9" width="11.7" height="13.8" rx="2.6" stroke-width="1.2"/>
<rect x="7.3" y="74.5" width="7.3" height="8.600000000000001" rx="2.4" stroke-width="1.5" stroke="#222" fill="#2a2a2a"/>
<rect x="5.1" y="93.6" width="11.7" height="15" rx="2.6" stroke-width="1.2"/>
<rect x="7.3" y="96.19999999999999" width="7.3" height="9.8" rx="2.4" stroke-width="1.5" stroke="#222" fill="#999"/>
<ellipse cx="10.899999999999999" cy="101.1" rx="2" ry="3" stroke-width="1.1" stroke="#333" fill="#ddd"/>
<rect x="38.9" y="72.4" width="11.7" height="14.9" rx="2.6" stroke-width="1.2"/>
<rect x="41.1" y="75.0" width="7.3" height="9.7" rx="2.4" stroke-width="1.5" stroke="#222" fill="#2a2a2a"/>
<rect x="38.9" y="95.7" width="11.7" height="13.4" rx="2.6" stroke-width="1.2"/>
<rect x="41.1" y="98.3" width="7.3" height="8.2" rx="2.4" stroke-width="1.5" stroke="#222" fill="#aaa"/>
<ellipse cx="44.699999999999996" cy="102.4" rx="2" ry="3" stroke-width="1.1" stroke="#333" fill="#ddd"/>
<path d="M59.3,121 V0 Q59.3,-3.6 62,-3.4" stroke-width="1.0"/>
<path d="M59.3,121 Q59.3,125.5 62.5,127.5 L73.2,130.2" stroke-width="1.0"/>
<ellipse cx="65.7" cy="9.3" rx="3.5" ry="6.2" stroke-width="1.5" transform="matrix(1,-0.45,0,1,0,29.6)"/>
<ellipse cx="65.9" cy="9.3" rx="1.6" ry="3.2" stroke-width="1.2" stroke="#333" transform="matrix(1,-0.45,0,1,0,29.6)"/>
<ellipse cx="65.7" cy="111.7" rx="3.5" ry="6.2" stroke-width="1.5" transform="matrix(1,-0.45,0,1,0,29.6)"/>
<ellipse cx="65.9" cy="111.7" rx="1.6" ry="3.2" stroke-width="1.2" stroke="#333" transform="matrix(1,-0.45,0,1,0,29.6)"/>
<rect x="60.6" y="53.6" width="11.6" height="14.2" rx="1" fill="#333" stroke="#222" stroke-width="0.8"/>
<rect x="62.8" y="57.2" width="7.2" height="7.4" rx="1.6" fill="none" stroke="#ddd" stroke-width="0.8"/>
<rect x="64.4" y="59.6" width="4" height="2.8" fill="#ddd" stroke="none"/>
</g>
<g transform="matrix(1,0.508,0,1,172.5,181.8)" fill="none" stroke="#1a1a1a">
<ellipse cx="0" cy="0" rx="15.9" ry="9.8" stroke-width="1.1"/>
<ellipse cx="1.2" cy="-0.3" rx="9.0" ry="9.6" stroke-width="1.0"/>
<ellipse cx="1.2" cy="-0.3" rx="6.9" ry="7.5" stroke-width="0.9" stroke="#333"/>
</g>
</svg>
</body></html>
